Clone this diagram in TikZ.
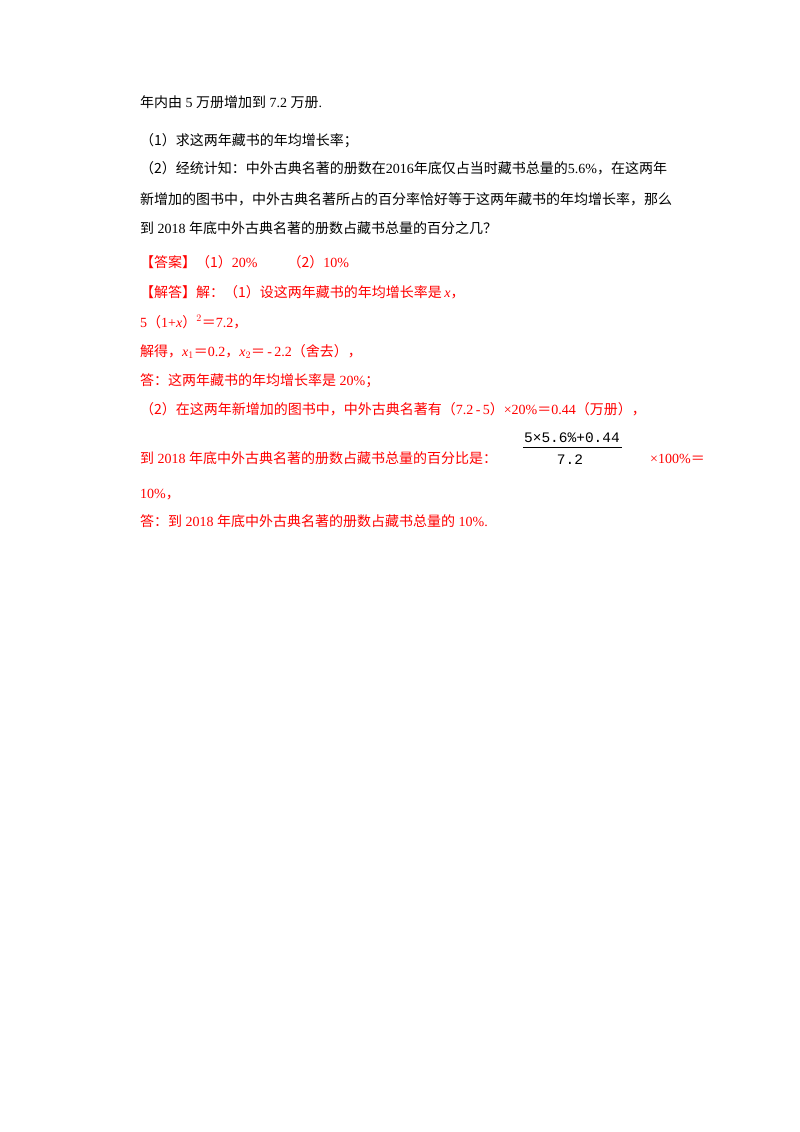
\documentclass[tikz,border=0pt]{standalone}
\usepackage{fontspec}
\setmainfont{Liberation Serif}
\newfontfamily\zhf{Noto Sans CJK SC}
\newfontfamily\monof{Liberation Mono}
\newcommand{\zh}[1]{{\zhf #1}}
\begin{document}
\begin{tikzpicture}[x=1pt,y=-1pt,
  t/.style={anchor=base west,inner sep=0pt,font=\fontsize{14}{16}\selectfont},
  r/.style={t,text=red}]
\useasboundingbox (0,0) rectangle (800,1132);
\node[t] (l1) at (140,107) {\zh{年内由} 5 \zh{万册增加到} 7.2 \zh{万册}.};
\node[t] (l2) at (140,145) {\zh{（1）求这两年藏书的年均增长率；}};
\node[t] (l3) at (140,173) {\zh{（2）经统计知：中外古典名著的册数在}2016\zh{年底仅占当时藏书总量的}5.6\%\zh{，在这两年}};
\node[t] (l4) at (140,204) {\zh{新增加的图书中，中外古典名著所占的百分率恰好等于这两年藏书的年均增长率，那么}};
\node[t] (l5) at (140,233) {\zh{到} 2018 \zh{年底中外古典名著的册数占藏书总量的百分之几？}};
\node[r] (l6) at (140,267) {\zh{【答案】（1）}20\%\hspace{30pt}\zh{（2）}10\%};
\node[r] (l7) at (140,297) {\zh{【解答】解：（1）设这两年藏书的年均增长率是}\,\textit{x}\zh{，}};
\node[r] (l8) at (140,327) {5\zh{（}1+\textit{x}\zh{）}$^{2}$\zh{＝}7.2\zh{，}};
\node[r] (l9) at (140,356) {\zh{解得，}\textit{x}$_1$\zh{＝}0.2\zh{，}\textit{x}$_2$\zh{＝}\,-\,2.2\zh{（舍去），}};
\node[r] (l10) at (140,385) {\zh{答：这两年藏书的年均增长率是} 20\%\zh{；}};
\node[r] (l11) at (140,414) {\zh{（2）在这两年新增加的图书中，中外古典名著有（}7.2\,-\,5\zh{）}×20\%\zh{＝}0.44\zh{（万册），}};
\node[r] (l12) at (140,463) {\zh{到} 2018 \zh{年底中外古典名著的册数占藏书总量的百分比是：}};
\node[anchor=base,inner sep=0pt,font=\monof\fontsize{14.5}{16}\selectfont] (num) at (572,442) {5×5.6\%+0.44};
\draw[line width=0.8pt] (523,447) -- (622,447);
\node[anchor=base,inner sep=0pt,font=\monof\fontsize{14.5}{16}\selectfont] (den) at (570,464) {7.2};
\node[r] (l13) at (650,463) {×100\%\zh{＝}};
\node[r] (l14) at (140,498) {10\%\zh{，}};
\node[r] (l15) at (140,526) {\zh{答：到} 2018 \zh{年底中外古典名著的册数占藏书总量的} 10\%.};
\end{tikzpicture}
\end{document}
